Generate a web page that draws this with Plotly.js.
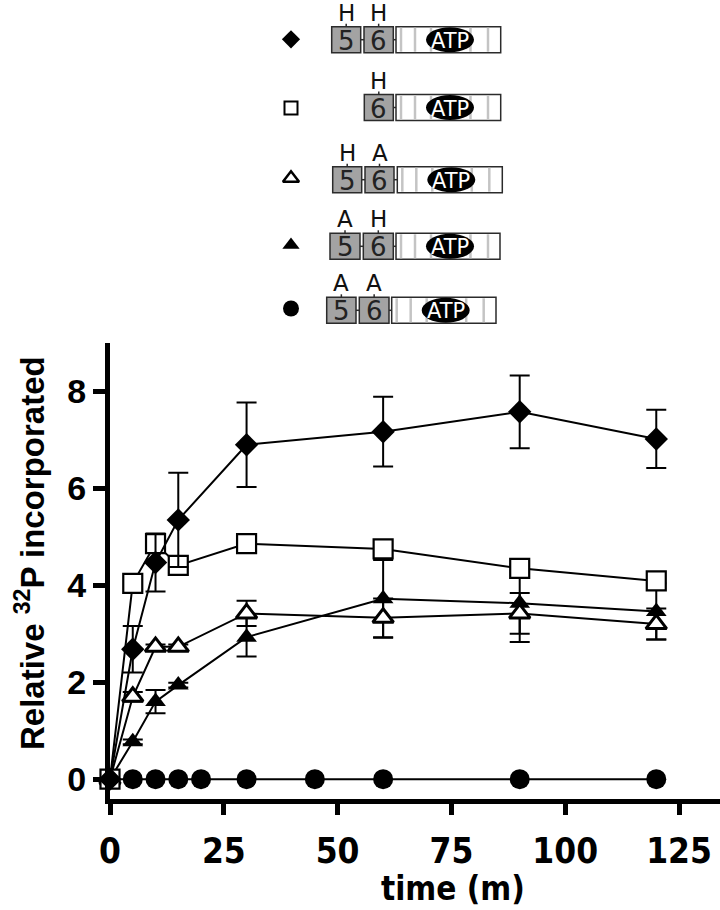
<!DOCTYPE html>
<html>
<head>
<meta charset="utf-8">
<script src="https://cdn.plot.ly/plotly-3.0.1.min.js"></script>
<style>html,body{margin:0;padding:0;background:#fff}#chart{width:720px;height:910px}</style>
</head>
<body>
<div id="chart"></div>
<script>
// ---- data ----
const times = [0, 5, 10, 15, 30, 60, 90, 120];
const timesAA = [0, 5, 10, 15, 20, 30, 45, 60, 90, 120];

const seriesNames = ["5H 6H", "6H", "5H 6A", "5A 6H", "5A 6A"];

const hhVals = [0, 2.68, 4.47, 5.35, 6.90, 7.17, 7.58, 7.02];
const hhErr  = [0, 0.48, 0.60, 0.97, 0.87, 0.72, 0.75, 0.60];

const h6Vals = [0, 4.04, 4.86, 4.41, 4.86, 4.75, 4.35, 4.09];

const haVals = [0, 1.70, 2.73, 2.73, 3.42, 3.33, 3.42, 3.20];
const haErr  = [0, 0.10, 0.05, 0.05, 0.26, 0.40, 0.42, 0.32];

const ahVals = [0, 0.77, 1.60, 1.94, 2.93, 3.72, 3.63, 3.46];
const ahErr  = [0, 0.05, 0.24, 0.05, 0.40, 0.80, 0.80, 0.58];

const aaVals = [0, 0, 0, 0, 0, 0, 0, 0, 0, 0];

const xTicks = [0, 25, 50, 75, 100, 125];
const yTicks = [0, 2, 4, 6, 8];

// key diagram labels (mutation at domain 5, domain 6)
const keyLabels = [["H", "H"], [null, "H"], ["H", "A"], ["A", "H"], ["A", "A"]];

// ---- layout geometry (pixels) ----
const W = 720, H = 910;
const keyRows = [
  {cy: 39.3, top: 26.7, b5: [331.7, 360.7], b6: [364, 393.3], lg: [396, 500.7]},
  {cy: 108, top: 94.5, b5: null, b6: [364.3, 393.3], lg: [396, 500.7]},
  {cy: 178.3, top: 166.7, b5: [332.7, 361.7], b6: [365, 394], lg: [397.3, 502.3]},
  {cy: 245, top: 233.3, b5: [330, 360], b6: [363.3, 393.3], lg: [396, 500]},
  {cy: 308.5, top: 297.3, b5: [326.7, 356], b6: [359.3, 389], lg: [391.7, 496]}
];
const keyX = 291;
const boxH = 26;
const stripeOffsets = [5, 19, 35, 74.5, 92];

const lineStyle = {color: "black", width: 2};
const errStyle = (arr) => ({type: "data", array: arr, visible: true, color: "black", thickness: 2, width: 10});

const traces = [
  {x: timesAA, y: aaVals, name: seriesNames[4], mode: "lines+markers", line: lineStyle,
   marker: {symbol: "circle", size: 20, color: "black", opacity: 1}, cliponaxis: false},
  {x: times, y: ahVals, name: seriesNames[3], mode: "lines+markers", line: lineStyle,
   error_y: errStyle(ahErr),
   marker: {symbol: "triangle-up", size: 18, color: "black", opacity: 1}, cliponaxis: false},
  {x: times, y: haVals, name: seriesNames[2], mode: "lines+markers", line: lineStyle,
   error_y: errStyle(haErr),
   marker: {symbol: "triangle-up", size: 18, color: "white", opacity: 1, line: {color: "black", width: 3}}, cliponaxis: false},
  {x: times, y: h6Vals, name: seriesNames[1], mode: "lines+markers", line: lineStyle,
   marker: {symbol: "square", size: 19, color: "white", opacity: 1, line: {color: "black", width: 2.2}}, cliponaxis: false},
  {x: times, y: hhVals, name: seriesNames[0], mode: "lines+markers", line: lineStyle,
   error_y: errStyle(hhErr),
   marker: {symbol: "diamond", size: 18, color: "black", opacity: 1}, cliponaxis: false},
  // key symbols
  {x: keyRows.map(r => keyX), y: keyRows.map(r => r.cy), xaxis: "x2", yaxis: "y2", mode: "markers",
   hoverinfo: "skip", cliponaxis: false,
   text: seriesNames,
   marker: {
     symbol: ["diamond", "square", "triangle-up", "triangle-up", "circle"],
     size: [14, 13, 14, 15, 16],
     opacity: 1,
     color: ["black", "white", "white", "black", "black"],
     line: {color: "black", width: [0, 2, 2.5, 0, 0]}
   }}
];

const shapes = [];
const annotations = [];
const stroke = "#2b2b2b";

keyRows.forEach((r, i) => {
  const y0 = r.top, y1 = r.top + boxH, ym = (y0 + y1) / 2;
  const boxes = [];
  if (r.b5) boxes.push([r.b5, "5", keyLabels[i][0]]);
  boxes.push([r.b6, "6", keyLabels[i][1]]);
  if (r.b5) shapes.push({type: "line", xref: "x2", yref: "y2", x0: r.b5[1], x1: r.b6[0], y0: ym, y1: ym, line: {color: stroke, width: 1.5}});
  shapes.push({type: "line", xref: "x2", yref: "y2", x0: r.b6[1], x1: r.lg[0], y0: ym, y1: ym, line: {color: stroke, width: 1.5}});
  boxes.forEach(([bx, num, lab]) => {
    shapes.push({type: "rect", xref: "x2", yref: "y2", x0: bx[0], x1: bx[1], y0: y0, y1: y1,
      fillcolor: "#a3a3a3", line: {color: stroke, width: 1.5}});
    const cx = (bx[0] + bx[1]) / 2;
    annotations.push({xref: "x2", yref: "y2", x: cx, y: ym + 1, text: num, showarrow: false,
      font: {family: "DejaVu Sans", size: 26, color: "#222"}});
    if (lab) {
      shapes.push({type: "line", xref: "x2", yref: "y2", x0: cx, x1: cx, y0: y0, y1: y0 - 3, line: {color: stroke, width: 1.5}});
      annotations.push({xref: "x2", yref: "y2", x: cx, y: y0 - 14, text: lab, showarrow: false,
        font: {family: "DejaVu Sans", size: 23, color: "#111"}});
    }
  });
  shapes.push({type: "rect", xref: "x2", yref: "y2", x0: r.lg[0], x1: r.lg[1], y0: y0, y1: y1,
    fillcolor: "white", line: {color: stroke, width: 1.5}});
  stripeOffsets.forEach(o => {
    shapes.push({type: "line", xref: "x2", yref: "y2", x0: r.lg[0] + o, x1: r.lg[0] + o, y0: y0 + 1, y1: y1 - 1,
      line: {color: "#c4c4c4", width: 2.5}});
  });
  const ex = r.lg[0] + 54;
  shapes.push({type: "circle", xref: "x2", yref: "y2", x0: ex - 24, x1: ex + 24, y0: ym - 12.5, y1: ym + 12.5,
    fillcolor: "black", line: {color: "black", width: 0}});
  annotations.push({xref: "x2", yref: "y2", x: ex, y: ym + 1, text: "ATP", showarrow: false,
    font: {family: "DejaVu Sans", size: 21, color: "white"}});
});

// axis titles
annotations.push({xref: "x2", yref: "y2", x: 453, y: 888, text: "time (m)", showarrow: false,
  font: {family: "Liberation Sans Narrow, DejaVu Sans Condensed, Arial Narrow, sans-serif", size: 33, weight: 700, color: "black"}});
annotations.push({xref: "x2", yref: "y2", x: 30, y: 553, text: "Relative <sup>32</sup>P incorporated", textangle: -90, showarrow: false,
  font: {family: "Liberation Sans, Arial, sans-serif", size: 33, weight: 700, color: "black"}});

const layout = {
  width: W, height: H,
  margin: {l: 0, r: 0, t: 0, b: 0, pad: 0},
  paper_bgcolor: "white", plot_bgcolor: "rgba(0,0,0,0)",
  showlegend: false,
  xaxis: {
    domain: [110 / W, 1], range: [0, 134], anchor: "y",
    showline: true, linewidth: 5, linecolor: "black",
    ticks: "outside", ticklen: 11, tickwidth: 5, tickcolor: "black",
    ticklabelstandoff: 6,
    tickvals: xTicks, ticktext: xTicks.map(String),
    tickfont: {family: "Liberation Sans Narrow, DejaVu Sans Condensed, Arial Narrow, sans-serif", size: 35, weight: 700, color: "black"},
    showgrid: false, zeroline: false
  },
  yaxis: {
    domain: [111 / H, 567 / H], range: [-0.41, 9], anchor: "x",
    showline: true, linewidth: 5, linecolor: "black",
    ticks: "outside", ticklen: 12, tickwidth: 5, tickcolor: "black",
    tickvals: yTicks, ticktext: yTicks.map(String),
    tickfont: {family: "Liberation Sans, Arial, sans-serif", size: 34, weight: 700, color: "black"},
    showgrid: false, zeroline: false
  },
  xaxis2: {domain: [0, 1], range: [0, W], anchor: "y2", visible: false, fixedrange: true},
  yaxis2: {domain: [0, 1], range: [H, 0], anchor: "x2", visible: false, fixedrange: true},
  shapes: shapes,
  annotations: annotations
};

Plotly.newPlot("chart", traces, layout, {staticPlot: true, displayModeBar: false});
</script>
</body>
</html>
